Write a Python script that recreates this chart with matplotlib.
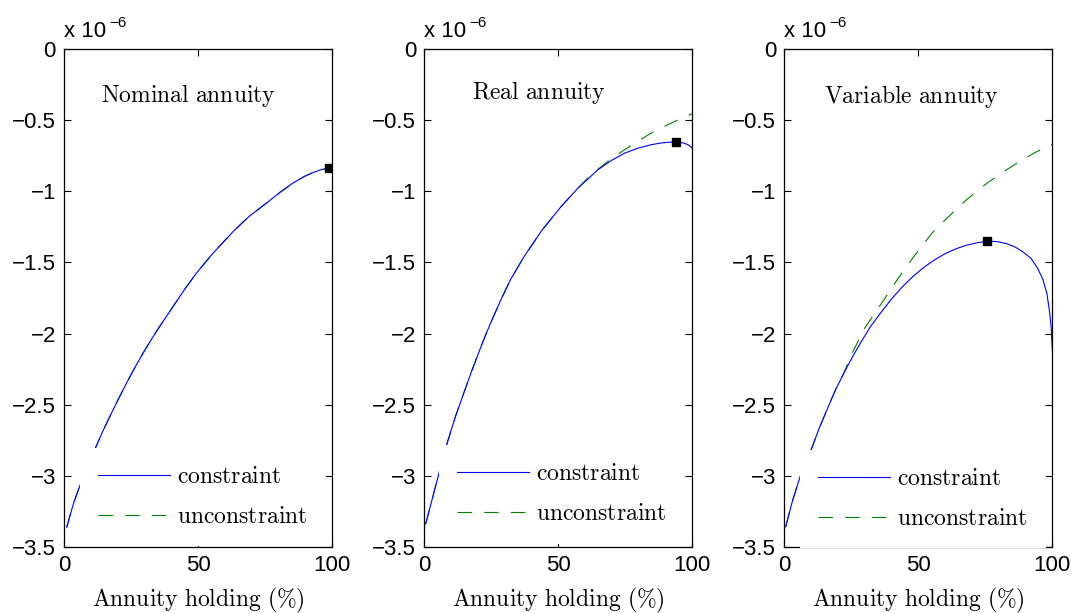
import matplotlib.pyplot as plt

plt.rcParams['mathtext.fontset'] = 'cm'
plt.rcParams['font.family'] = ['Liberation Sans', 'DejaVu Sans']

# values in units of 1e-6, x in % annuity holding
nom_x = [0.9, 3.5, 6.7, 9.2, 11.8, 14.4, 17.1, 20.2, 23.3, 26.4, 29.5, 32.6, 35.7, 40.7, 45.0, 49.4,
         55.6, 63.1, 69.0, 75.5, 80.5, 85.4, 89.5, 92.9, 96.0, 99.0]
nom_y = [-3.363, -3.190, -3.024, -2.905, -2.797, -2.686, -2.579, -2.460, -2.345, -2.237, -2.134, -2.038,
         -1.947, -1.807, -1.686, -1.572, -1.432, -1.280, -1.175, -1.081, -1.006, -0.940, -0.895, -0.866,
         -0.846, -0.835]
nom_ux = nom_x + [100.0]
nom_uy = nom_y + [-0.815]
nom_opt = (98.9, -0.835)

real_x = [0.5, 3.0, 5.5, 8.4, 11.5, 14.8, 17.3, 19.8, 22.3, 24.8, 28.5, 32.2, 37.3, 43.8, 51.1, 57.4,
          64.8, 69.8, 74.8, 79.8, 84.7, 88.0, 91.0, 93.7, 96.5, 98.5, 100.0]
real_y = [-3.34, -3.16, -2.98, -2.778, -2.59, -2.415, -2.283, -2.158, -2.036, -1.923, -1.765, -1.619,
          -1.456, -1.275, -1.105, -0.975, -0.847, -0.782, -0.730, -0.695, -0.671, -0.660, -0.654, -0.652,
          -0.658, -0.672, -0.695]
real_ux = real_x[:16] + [61.0, 65.4, 70.0, 74.8, 79.8, 84.7, 88.5, 92.0, 95.0, 97.3, 100.0]
real_uy = real_y[:16] + [-0.905, -0.835, -0.766, -0.706, -0.645, -0.589, -0.552, -0.520, -0.494, -0.475, -0.452]
real_opt = (93.8, -0.653)

var_x = [0.5, 3.0, 6.0, 10.1, 13.0, 16.0, 19.0, 22.3, 25.5, 28.5, 32.0, 36.0, 40.0, 44.0, 48.0, 52.0,
         56.0, 60.0, 64.0, 68.0, 72.0, 75.6, 79.5, 83.0, 86.0, 89.0, 92.0, 94.5, 96.5, 98.0, 99.0,
         99.6, 100.0]
var_y = [-3.36, -3.18, -3.00, -2.813, -2.667, -2.532, -2.400, -2.275, -2.162, -2.064, -1.955, -1.853,
         -1.757, -1.672, -1.598, -1.535, -1.482, -1.438, -1.404, -1.378, -1.361, -1.350, -1.353, -1.368,
         -1.390, -1.425, -1.470, -1.540, -1.620, -1.720, -1.850, -1.960, -2.120]
var_ux = var_x[:8] + [24.8, 29.7, 36.0, 42.2, 48.4, 55.2, 59.8, 63.6, 67.3, 71.5, 76.0, 80.5, 84.7,
                      89.0, 93.5, 98.1, 100.0]
var_uy = var_y[:8] + [-2.158, -1.970, -1.795, -1.619, -1.456, -1.291, -1.205, -1.135, -1.070, -1.003,
                      -0.937, -0.878, -0.826, -0.776, -0.727, -0.685, -0.668]
var_opt = (75.6, -1.350)

titles = ['Nominal annuity', 'Real annuity', 'Variable annuity']
title_pos = [(0.465, 0.908), (0.428, 0.914), (0.475, 0.906)]
leg_pos = [(0.058, 0.1985), (0.054, 0.2045), (0.058, 0.1945)]
lefts = [0.0599, 0.3951, 0.7303]

panels = [(nom_x, nom_y, nom_ux, nom_uy, nom_opt),
          (real_x, real_y, real_ux, real_uy, real_opt),
          (var_x, var_y, var_ux, var_uy, var_opt)]

fig = plt.figure(figsize=(10.74, 6.13), dpi=100)

for i, (cx, cy, ux, uy, opt) in enumerate(panels):
    ax = fig.add_axes([lefts[i], 0.1082, 0.2495, 0.8113])
    l2, = ax.plot(ux, uy, color='#008000', lw=0.8, ls=(0, (13, 11)), zorder=2)
    l1, = ax.plot(cx, cy, color='#0000ff', lw=0.8, zorder=3)
    ax.plot([opt[0]], [opt[1]], 's', color='black', ms=6, zorder=4)
    ax.set_xlim(0, 100)
    ax.set_ylim(-3.5, 0)
    ax.set_xticks([0, 50, 100])
    ax.set_yticks([-3.5, -3, -2.5, -2, -1.5, -1, -0.5, 0])
    ax.set_yticklabels(['\u22123.5', '\u22123', '\u22122.5', '\u22122', '\u22121.5', '\u22121', '\u22120.5', '0'])
    ax.tick_params(direction='in', top=True, right=True, length=5, width=0.8, labelsize=16, pad=6)
    for s in ax.spines.values():
        s.set_linewidth(0.9)
    ax.set_xlabel(r'$\mathrm{Annuity\ holding\ (\%)}$', fontsize=17, labelpad=7)
    ax.text(title_pos[i][0], title_pos[i][1], r'$\mathrm{' + titles[i].replace(' ', r'\ ') + '}$',
            transform=ax.transAxes, ha='center', va='center', fontsize=17)
    ax.text(0.0, 1.025, 'x 10', transform=ax.transAxes, ha='left', va='baseline', fontsize=16)
    ax.text(0.168, 1.045, '\u22126', transform=ax.transAxes, ha='left', va='baseline', fontsize=11)
    leg = ax.legend([l1, l2], [r'$\mathrm{constraint}$', r'$\mathrm{unconstraint}$'],
                    loc='upper left', bbox_to_anchor=leg_pos[i], borderaxespad=0,
                    fontsize=17, handlelength=3.05, handletextpad=0.3, labelspacing=0.75,
                    borderpad=0.78, fancybox=False, framealpha=1, facecolor='white',
                    edgecolor='none')
    leg.set_zorder(5)

plt.savefig('out.png')
